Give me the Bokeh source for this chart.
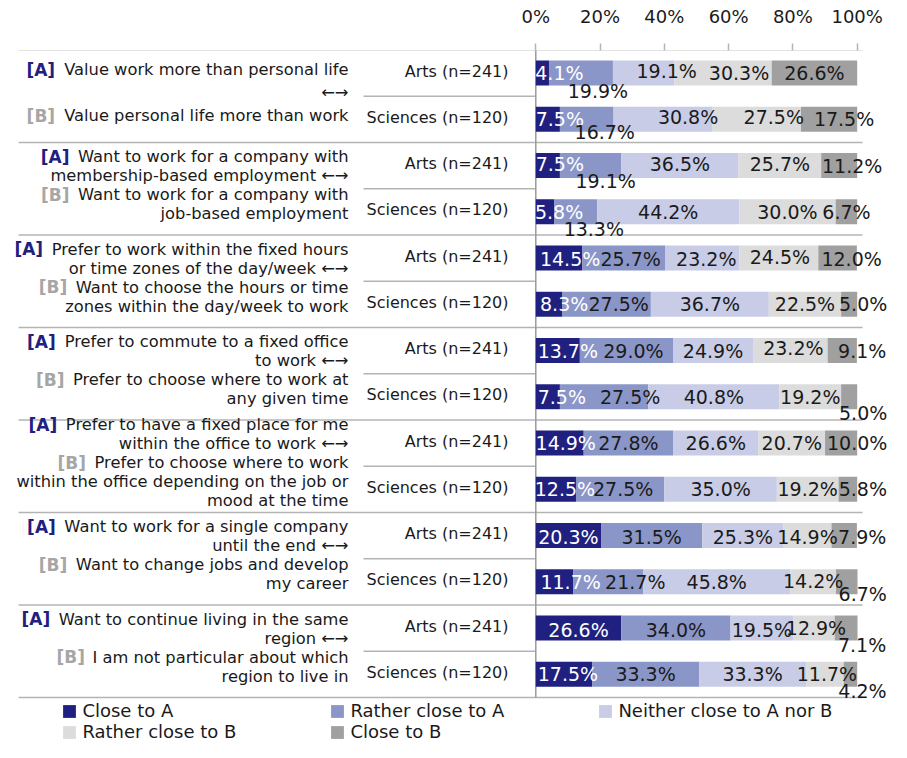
from bokeh.plotting import figure
from bokeh.models import (Range1d, LinearAxis, FixedTicker, PrintfTickFormatter,
                          ColumnDataSource, Legend, LegendItem)
from bokeh.core.properties import value
from bokeh.embed import file_html
from bokeh.resources import INLINE

# ---------------- data ----------------
SERIES = ["Close to A", "Rather close to A", "Neither close to A nor B",
          "Rather close to B", "Close to B"]
GROUPS = ["Arts (n=241)", "Sciences (n=120)"]
TICKS = [0, 20, 40, 60, 80, 100]

# rows: item1 Arts, item1 Sciences, item2 Arts, ...
close_A  = [4.1, 7.5, 7.5, 5.8, 14.5, 8.3, 13.7, 7.5, 14.9, 12.5, 20.3, 11.7, 26.6, 17.5]
rather_A = [19.9, 16.7, 19.1, 13.3, 25.7, 27.5, 29.0, 27.5, 27.8, 27.5, 31.5, 21.7, 34.0, 33.3]
neither  = [19.1, 30.8, 36.5, 44.2, 23.2, 36.7, 24.9, 40.8, 26.6, 35.0, 25.3, 45.8, 19.5, 33.3]
rather_B = [30.3, 27.5, 25.7, 30.0, 24.5, 22.5, 23.2, 19.2, 20.7, 19.2, 14.9, 14.2, 12.9, 11.7]
close_B  = [26.6, 17.5, 11.2, 6.7, 12.0, 5.0, 9.1, 5.0, 10.0, 5.8, 7.9, 6.7, 7.1, 4.2]

ITEMS_A = [
    ["Value work more than personal life", "←→"],
    ["Want to work for a company with", "membership-based employment ←→"],
    ["Prefer to work within the fixed hours", "or time zones of the day/week ←→"],
    ["Prefer to commute to a fixed office", "to work ←→"],
    ["Prefer to have a fixed place for me", "within the office to work ←→"],
    ["Want to work for a single company", "until the end ←→"],
    ["Want to continue living in the same", "region ←→"],
]
ITEMS_B = [
    ["Value personal life more than work"],
    ["Want to work for a company with", "job-based employment"],
    ["Want to choose the hours or time", "zones within the day/week to work"],
    ["Prefer to choose where to work at", "any given time"],
    ["Prefer to choose where to work", "within the office depending on the job or", "mood at the time"],
    ["Want to change jobs and develop", "my career"],
    ["I am not particular about which", "region to live in"],
]

# ---------------- styles / layout ----------------
COLORS = ["#1f2080", "#8b96c8", "#c8cce6", "#dcdcdc", "#a0a0a0"]
LABEL_COLORS = ["#ffffff", "#1a1a1a", "#1a1a1a", "#1a1a1a", "#1a1a1a"]
A_COLOR, B_COLOR, TXT = "#1f2080", "#a6a6a6", "#1a1a1a"
LINE_COLOR = "#b4b4b4"
FONT = "DejaVu Sans"

# label nudges in pixels (dx, dy) per row and segment
NUDGE = [
    [(17, 0), (17, 18), (23, -2), (16, 0), (0, 0)],
    [(12, 0), (18, 13), (25, -2), (17, -2), (15, 0)],
    [(12, -2), (15, 15), (0, -2), (0, -2), (13, 0)],
    [(14, 0), (18, 17), (0, 0), (0, 0), (0, 0)],
    [(11, 1), (7, 1), (4, 1), (1, -1), (14, 1)],
    [(15, 0), (12, 0), (0, 0), (0, 0), (14, 0)],
    [(10, 0), (7, 0), (0, 0), (3, -3), (20, 0)],
    [(14, 0), (26, 0), (0, 0), (0, 0), (14, 16)],
    [(6, 0), (0, 0), (0, 0), (0, 0), (16, 0)],
    [(9, 0), (3, 0), (0, 0), (0, 0), (15, 0)],
    [(0, 1), (0, 1), (0, 1), (0, 1), (18, 1)],
    [(16, 0), (27, 0), (0, 0), (0, -1), (16, 12)],
    [(0, 2), (0, 2), (0, 2), (2, 0), (16, 17)],
    [(4, 0), (0, 0), (0, 0), (2, 0), (12, 17)],
]

W, H = 891, 742
TOP = 50                      # height of the axis band above the frame
PX = 3.214                    # pixels per percent
ZERO = 535.3                  # 0% position inside the figure (px)
ROW = 46.25                   # row pitch (px)
FIRST = 22.5                  # first row centre below frame top (px)
LINE_GAPS = [23, 19, 19, 19, 19, 19, 19]

def pct(px):
    return (px - ZERO) / PX

x0r = pct(0)
x1r = pct(W)
y_top = -FIRST / ROW
y_bot = y_top + (H - TOP) / ROW

p = figure(width=W, height=H, output_backend="svg", toolbar_location=None,
           x_range=Range1d(x0r, x1r), y_range=Range1d(y_bot, y_top),
           x_axis_location=None, y_axis_location=None,
           min_border_left=0, min_border_right=0, min_border_bottom=0,
           min_border_top=TOP, outline_line_color=None,
           background_fill_color="white", border_fill_color="white")
p.xgrid.grid_line_color = None
p.ygrid.grid_line_color = None

ax = LinearAxis(ticker=FixedTicker(ticks=TICKS),
                formatter=PrintfTickFormatter(format="%d%%"))
ax.axis_line_color = None
ax.major_tick_out = 7
ax.major_tick_in = 0
ax.minor_tick_line_color = None
ax.major_tick_line_color = LINE_COLOR
ax.major_tick_line_width = 1.5
ax.major_label_text_font = FONT
ax.major_label_text_font_size = "18px"
ax.major_label_text_color = TXT
ax.major_label_standoff = 17
p.add_layout(ax, "above")

n_rows = len(close_A)
rows = list(range(n_rows))
n_groups = len(ITEMS_A)

# separators
gy = [2 * k - 0.5 for k in range(n_groups + 1)]
p.segment(x0=[pct(18)] * len(gy), x1=[pct(862)] * len(gy), y0=gy, y1=gy,
          line_color=LINE_COLOR, line_width=1.5)
iy = [2 * k + 0.5 for k in range(n_groups)]
p.segment(x0=[pct(363)] * len(iy), x1=[0] * len(iy), y0=iy, y1=iy,
          line_color=LINE_COLOR, line_width=1.5)
p.segment(x0=[0], x1=[0], y0=[-0.5], y1=[n_rows - 0.5],
          line_color="#9a9a9a", line_width=1.5)

# stacked bars
series_vals = [close_A, rather_A, neither, rather_B, close_B]
cum = [0.0] * n_rows
renderers = []
lx, ly, lt, lc, ldx, ldy = [], [], [], [], [], []
for j, vals in enumerate(series_vals):
    left = cum[:]
    right = [a + b for a, b in zip(cum, vals)]
    r = p.hbar(y=rows, left=left, right=right, height=0.54,
               fill_color=COLORS[j], line_color=None)
    renderers.append(r)
    for i in rows:
        lx.append((left[i] + right[i]) / 2)
        ly.append(i)
        lt.append(f"{vals[i]:.1f}%")
        lc.append(LABEL_COLORS[j])
        ldx.append(NUDGE[i][j][0])
        ldy.append(NUDGE[i][j][1])
    cum = right

lab = ColumnDataSource(dict(x=lx, y=ly, t=lt, c=lc, dx=ldx, dy=ldy))
p.text(x="x", y="y", text="t", text_color="c", x_offset="dx", y_offset="dy",
       text_align="center", text_baseline="middle", source=lab,
       text_font=value(FONT), text_font_size=value("19px"))

# group (Arts / Sciences) labels
cs = ColumnDataSource(dict(y=rows, t=[GROUPS[i % 2] for i in rows]))
p.text(x=0, y="y", text="t", source=cs, x_offset=-27.3, y_offset=-2,
       text_align="right", text_baseline="middle", text_color=TXT,
       text_font=value(FONT), text_font_size=value("16px"))

# item labels with coloured [A]/[B]
WID = {" ": 651, "(": 799, ")": 799, "-": 739, ".": 651, "/": 690, "=": 1716,
       "←": 1716, "→": 1716, "A": 1401, "B": 1405, "C": 1430, "D": 1577,
       "I": 604, "P": 1235, "V": 1401, "W": 2025,
       "a": 1255, "b": 1300, "c": 1126, "d": 1300, "e": 1260, "f": 721, "g": 1300,
       "h": 1298, "i": 569, "j": 569, "k": 1186, "l": 569, "m": 1995, "n": 1298,
       "o": 1253, "p": 1300, "q": 1300, "r": 842, "s": 1067, "t": 803, "u": 1298,
       "v": 1212, "w": 1675, "x": 1212, "y": 1212, "z": 1075}

ITEM_SIZE = 16.3

def text_w(s, size):
    return sum(WID.get(ch, 1300) for ch in s) / 2048 * size

RIGHT = -187.3
ty, tt, tdy = [], [], []
py_, pt, pdx, pdy, pc = [], [], [], [], []
for k in range(n_groups):
    lines = [("A", s) for s in ITEMS_A[k]] + [("B", s) for s in ITEMS_B[k]]
    n = len(lines)
    gap = LINE_GAPS[k]
    for i, (kind, s) in enumerate(lines):
        off = (i - (n - 1) / 2) * gap - 3.5
        ty.append(2 * k + 0.5)
        tt.append(s)
        tdy.append(off)
        first = (i == 0) or (kind == "B" and lines[i - 1][0] == "A")
        if first:
            py_.append(2 * k + 0.5)
            pt.append(f"[{kind}]")
            pdx.append(RIGHT - text_w(" " + s, ITEM_SIZE) - 2)
            pdy.append(off)
            pc.append(A_COLOR if kind == "A" else B_COLOR)

ts = ColumnDataSource(dict(y=ty, t=tt, dy=tdy))
p.text(x=0, y="y", text="t", source=ts, x_offset=RIGHT, y_offset="dy",
       text_align="right", text_baseline="middle", text_color=TXT,
       text_font=value(FONT), text_font_size=value(f"{ITEM_SIZE}px"))
ps = ColumnDataSource(dict(y=py_, t=pt, dx=pdx, dy=pdy, c=pc))
p.text(x=0, y="y", text="t", source=ps, x_offset="dx", y_offset="dy",
       text_align="right", text_baseline="middle", text_color="c",
       text_font=value(FONT), text_font_size=value("17px"),
       text_font_style="bold")

# legend
items = [LegendItem(label=SERIES[j], renderers=[renderers[j]]) for j in range(5)]
leg = Legend(items=items, orientation="horizontal", ncols=3, location=(61.4, 0),
             glyph_width=16, glyph_height=16, label_standoff=5, label_width=247,
             label_height=20, spacing=0, padding=0, margin=0,
             border_line_color=None, background_fill_alpha=0,
             label_text_font=FONT, label_text_font_size="18px",
             label_text_color=TXT)
p.add_layout(leg, "center")

open("out.html", "w").write(file_html(p, INLINE))
